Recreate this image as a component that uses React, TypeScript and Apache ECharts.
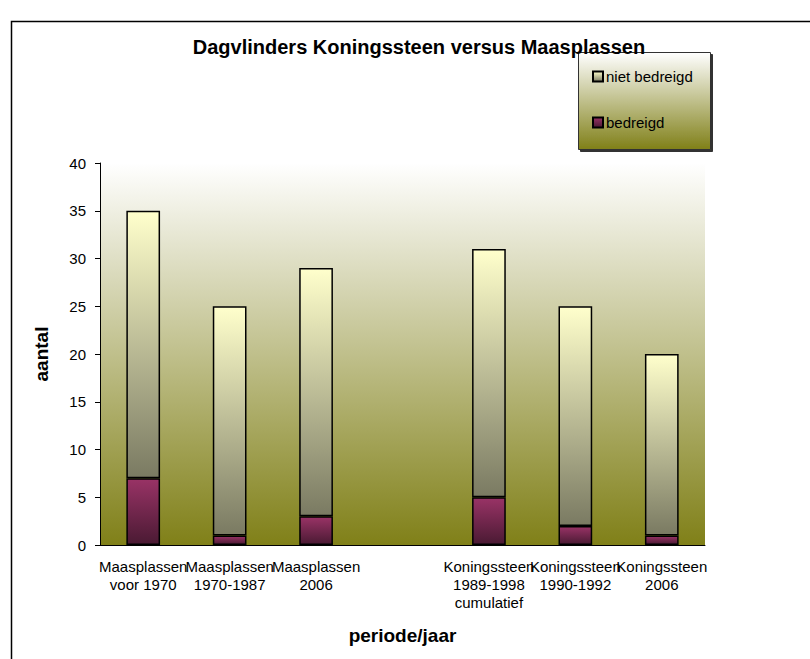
import React, { useEffect, useRef } from "react";
import * as echarts from "echarts";

const categories = [
  "Maasplassen\nvoor 1970",
  "Maasplassen\n1970-1987",
  "Maasplassen\n2006",
  "",
  "Koningssteen\n1989-1998\ncumulatief",
  "Koningssteen\n1990-1992",
  "Koningssteen\n2006",
];
const bedreigd = [7, 1, 3, null, 5, 2, 1];
const nietBedreigd = [28, 24, 26, null, 26, 23, 19];
const yTicks = { min: 0, max: 40, interval: 5 };

const FONT = "Liberation Sans, Arial, sans-serif";

export default function App() {
  const ref = useRef<HTMLDivElement>(null);
  useEffect(() => {
    if (!ref.current) return;
    const chart = echarts.init(ref.current, null, { renderer: "svg" });
    const grad = (top: string, bottom: string) =>
      new echarts.graphic.LinearGradient(0, 0, 0, 1, [
        { offset: 0, color: top },
        { offset: 1, color: bottom },
      ]);
    chart.setOption({
      animation: false,
      textStyle: { fontFamily: FONT },
      title: {
        text: "Dagvlinders Koningssteen versus Maasplassen",
        left: 414,
        top: 32,
        textAlign: "center",
        textStyle: { fontFamily: FONT, fontSize: 20, fontWeight: "bold", color: "#000" },
      },
      graphic: [
        {
          type: "rect",
          left: 9,
          top: 19,
          shape: { width: 900, height: 800 },
          style: { fill: "none", stroke: "#000", lineWidth: 1.5 },
          silent: true,
          z: 0,
        },
        {
          type: "rect",
          left: 100,
          top: 163,
          shape: { width: 605, height: 382 },
          style: { fill: grad("#ffffff", "#808018") },
          silent: true,
          z: -1,
        },
        {
          type: "rect",
          left: 578,
          top: 52,
          shape: { width: 132, height: 97 },
          style: {
            fill: grad("#ffffff", "#808018"),
            stroke: "#333",
            lineWidth: 1,
            shadowColor: "rgba(0,0,0,0.8)",
            shadowOffsetX: 2,
            shadowOffsetY: 2,
            shadowBlur: 0,
          },
          silent: true,
          z: 1,
        },
      ],
      legend: {
        data: ["niet bedreigd", "bedreigd"],
        orient: "vertical",
        left: 587,
        top: 64,
        itemWidth: 10,
        itemHeight: 10,
        itemGap: 31,
        icon: "rect",
        textStyle: { fontFamily: FONT, fontSize: 15, color: "#000", padding: [0, 0, 0, -2] },
        z: 5,
      },
      grid: { left: 100, right: 105, top: 163, bottom: 114 },
      xAxis: {
        type: "category",
        data: categories,
        name: "periode/jaar",
        nameLocation: "middle",
        nameGap: 81,
        nameTextStyle: { fontFamily: FONT, fontSize: 19, fontWeight: "bold", color: "#000" },
        axisLine: { lineStyle: { color: "#000", width: 1 } },
        axisTick: { show: false },
        axisLabel: {
          interval: 0,
          fontFamily: FONT,
          fontSize: 15,
          color: "#000",
          lineHeight: 18,
          margin: 12,
        },
      },
      yAxis: {
        type: "value",
        min: yTicks.min,
        max: yTicks.max,
        interval: yTicks.interval,
        name: "aantal",
        nameLocation: "middle",
        nameGap: 49,
        nameTextStyle: { fontFamily: FONT, fontSize: 19, fontWeight: "bold", color: "#000" },
        axisLine: { show: true, lineStyle: { color: "#000", width: 1 } },
        axisTick: { show: true, length: 5, lineStyle: { color: "#000" } },
        axisLabel: { fontFamily: FONT, fontSize: 15, color: "#000", margin: 14 },
        splitLine: { show: false },
      },
      series: [
        {
          name: "bedreigd",
          type: "bar",
          stack: "a",
          barWidth: "39%",
          data: bedreigd,
          itemStyle: {
            color: grad("#993366", "#4a1a33"),
            borderColor: "#000",
            borderWidth: 1.5,
          },
        },
        {
          name: "niet bedreigd",
          type: "bar",
          stack: "a",
          barWidth: "39%",
          data: nietBedreigd,
          itemStyle: {
            color: grad("#ffffcc", "#7a7a62"),
            borderColor: "#000",
            borderWidth: 1.5,
          },
        },
      ],
    });
    return () => chart.dispose();
  }, []);
  return (
    <div
      ref={ref}
      style={{ position: "fixed", left: 0, top: 0, width: 810, height: 659, background: "#fff" }}
    />
  );
}
